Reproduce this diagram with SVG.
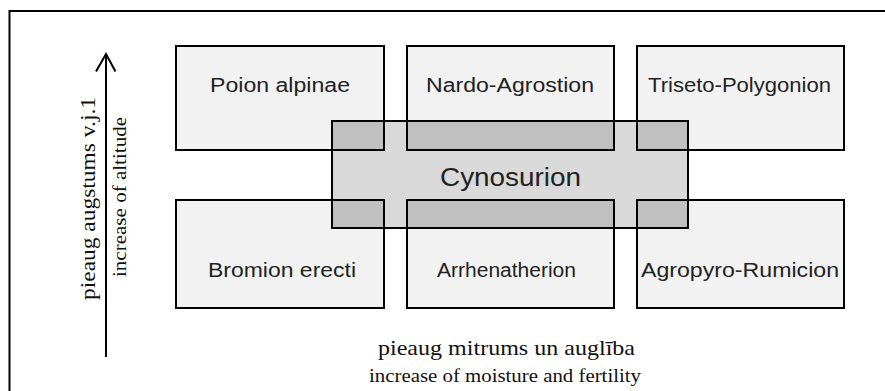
<svg xmlns="http://www.w3.org/2000/svg" width="885" height="391" viewBox="0 0 885 391">
<style>
.box{fill:#f2f2f2;stroke:none}
.ov{fill:#c0c0c0;stroke:none}
.edge{fill:none;stroke:#000;stroke-width:2}
.lbl{font-family:"Liberation Sans",Arial,sans-serif;font-size:20px;fill:#222;text-anchor:middle}
.big{font-family:"Liberation Sans",Arial,sans-serif;font-size:26px;fill:#222;text-anchor:middle}
.ser{font-family:"Liberation Serif","Times New Roman",serif;fill:#111;text-anchor:middle}
</style>
<rect x="0" y="0" width="885" height="391" fill="#fff"/>
<path d="M9.5 391 V11 H885" fill="none" stroke="#000" stroke-width="2"/>
<g id="boxes-fill">
<rect class="box" x="176" y="46" width="208" height="104"/>
<rect class="box" x="407" y="46" width="207" height="104"/>
<rect class="box" x="637" y="46" width="207" height="104"/>
<rect class="box" x="176" y="200" width="208" height="108"/>
<rect class="box" x="407" y="200" width="207" height="108"/>
<rect class="box" x="637" y="200" width="207" height="108"/>
</g>
<g id="cynosurion">
<rect x="332" y="121" width="356" height="107" fill="#d9d9d9"/>
<rect class="ov" x="332" y="121" width="52" height="29"/>
<rect class="ov" x="407" y="121" width="207" height="29"/>
<rect class="ov" x="637" y="121" width="51" height="29"/>
<rect class="ov" x="332" y="200" width="52" height="28"/>
<rect class="ov" x="407" y="200" width="207" height="28"/>
<rect class="ov" x="637" y="200" width="51" height="28"/>
<rect class="edge" x="332" y="121" width="356" height="107"/>
<text class="big" x="510.5" y="186" textLength="141" lengthAdjust="spacingAndGlyphs">Cynosurion</text>
</g>
<g id="poion"><rect class="edge" x="176" y="46" width="208" height="104"/><text class="lbl" x="280" y="91.5" textLength="140" lengthAdjust="spacingAndGlyphs">Poion alpinae</text></g>
<g id="nardo"><rect class="edge" x="407" y="46" width="207" height="104"/><text class="lbl" x="510" y="91.5" textLength="168" lengthAdjust="spacingAndGlyphs">Nardo-Agrostion</text></g>
<g id="triseto"><rect class="edge" x="637" y="46" width="207" height="104"/><text class="lbl" x="739.5" y="91.5" textLength="183" lengthAdjust="spacingAndGlyphs">Triseto-Polygonion</text></g>
<g id="bromion"><rect class="edge" x="176" y="200" width="208" height="108"/><text class="lbl" x="282" y="276.5" textLength="148" lengthAdjust="spacingAndGlyphs">Bromion erecti</text></g>
<g id="arrhen"><rect class="edge" x="407" y="200" width="207" height="108"/><text class="lbl" x="506.5" y="276.5" textLength="139" lengthAdjust="spacingAndGlyphs">Arrhenatherion</text></g>
<g id="agropyro"><rect class="edge" x="637" y="200" width="207" height="108"/><text class="lbl" x="740" y="276.5" textLength="198" lengthAdjust="spacingAndGlyphs">Agropyro-Rumicion</text></g>
<g id="connectors">
<line x1="106" y1="357" x2="106" y2="54" stroke="#000" stroke-width="2"/>
<polyline points="96,71.5 106,54 115.5,71.5" fill="none" stroke="#000" stroke-width="2"/>
</g>
<g id="labels">
<text class="ser" font-size="21" transform="translate(95,198.5) rotate(-90)" textLength="203" lengthAdjust="spacingAndGlyphs">pieaug augstums v.j.1</text>
<text class="ser" font-size="18" transform="translate(126,197) rotate(-90)" textLength="160" lengthAdjust="spacingAndGlyphs">increase of altitude</text>
<text class="ser" font-size="21" x="506.5" y="354.5" textLength="257" lengthAdjust="spacingAndGlyphs">pieaug mitrums un auglība</text>
<text class="ser" font-size="18" x="505" y="381.5" textLength="272" lengthAdjust="spacingAndGlyphs">increase of moisture and fertility</text>
</g>
</svg>
